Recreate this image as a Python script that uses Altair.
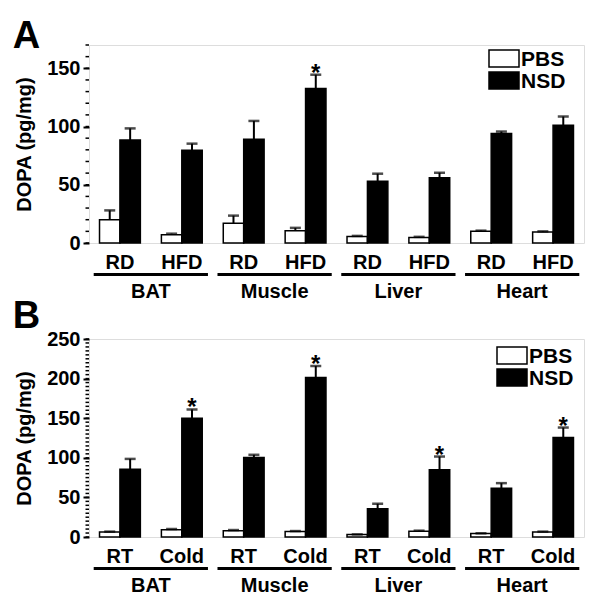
import altair as alt
import pandas as pd

FONT = "Liberation Sans"

tissues = ["BAT", "Muscle", "Liver", "Heart"]
series = ["PBS", "NSD"]

conds_A = ["RD", "HFD"]
A_pbs = [20, 7, 17, 10.5, 5.5, 4.8, 10, 9.5]
A_pbs_sem = [8, 1, 6.5, 2.5, 0.6, 0.5, 0.6, 0.5]
A_nsd = [88.4, 79.6, 89, 132.7, 53.1, 56, 94, 101.1]
A_nsd_sem = [10, 5.7, 15.8, 11.8, 6.4, 4.3, 1.7, 7.5]
A_star = [0, 0, 0, 1, 0, 0, 0, 0]

conds_B = ["RT", "Cold"]
B_pbs = [6.3, 9.3, 8, 7, 3, 7.2, 4.3, 6.3]
B_pbs_sem = [0.5, 0.8, 0.8, 0.5, 0.3, 0.8, 0.4, 0.5]
B_nsd = [85.6, 150, 100.4, 201.5, 35.8, 85, 61.7, 125.6]
B_nsd_sem = [13, 11, 3.4, 14.4, 6.2, 16.6, 6.3, 12.6]
B_star = [0, 1, 0, 1, 0, 1, 0, 1]

W, H = 495, 198


def panel(letter, conds, pbs, pbs_sem, nsd, nsd_sem, star, ymax, major, minor_step,
          title_offset, legend_x, legend_y):
    groups = [f"{t}|{c}" for t in tissues for c in conds]
    rows = []
    for i, g in enumerate(groups):
        t, c = g.split("|")
        rows.append(dict(group=g, tissue=t, cond=c, series="PBS", value=pbs[i],
                         top=pbs[i] + pbs_sem[i], star=0))
        rows.append(dict(group=g, tissue=t, cond=c, series="NSD", value=nsd[i],
                         top=nsd[i] + nsd_sem[i], star=star[i]))
    df = pd.DataFrame(rows)

    yscale = alt.Scale(domain=[0, ymax], nice=False, zero=True)
    yaxis = alt.Axis(values=major, tickSize=6, tickWidth=2, tickColor="black",
                     labelFontSize=20, labelFont=FONT, labelFontWeight="bold",
                     labelColor="black", labelPadding=3, domain=False, grid=False,
                     titleFontSize=20, titleFont=FONT, titleFontWeight="bold",
                     titleColor="black", titlePadding=12)

    def Y(field):
        return alt.Y(field, type="quantitative", scale=yscale, axis=yaxis,
                     title="DOPA (pg/mg)")

    X = alt.X("group:N", sort=groups,
              scale=alt.Scale(paddingInner=0.34, paddingOuter=0.17), axis=None)
    XO = alt.XOffset("series:N", sort=series,
                     scale=alt.Scale(paddingInner=0, paddingOuter=0))

    base = alt.Chart(df)
    bars = base.mark_bar(stroke="black", strokeWidth=1.5).encode(
        x=X, xOffset=XO, y=Y("value"),
        fill=alt.Fill("series:N", sort=series,
                      scale=alt.Scale(domain=series, range=["white", "black"]),
                      legend=None))
    errs = base.mark_rule(strokeWidth=2, color="black").encode(
        x=X, xOffset=XO, y=Y("value"), y2="top:Q")
    caps = base.mark_tick(size=11, thickness=2.5, color="black").encode(
        x=X, xOffset=XO, y=Y("top"))
    stars = base.transform_filter(alt.datum.star == 1).mark_text(
        text="*", dy=6, baseline="alphabetic", fontSize=24, fontWeight="bold",
        font=FONT, color="black").encode(x=X, xOffset=XO, y=Y("top"))
    sub = base.transform_filter(alt.datum.series == "PBS").mark_text(
        baseline="middle", fontSize=20, fontWeight="bold", font=FONT,
        color="black").encode(x=X, y=alt.value(H + 20), text="cond:N")

    minor = pd.DataFrame({"v": list(range(0, ymax + 1, minor_step))})
    minor_ticks = alt.Chart(minor).mark_rule(strokeWidth=1.5, color="black").encode(
        x=alt.value(-3.5), x2=alt.value(0), y=Y("v"))

    legend_layers = []
    for k, (s, fill) in enumerate(zip(series, ["white", "black"])):
        ldf = pd.DataFrame({"s": [s]})
        y0 = legend_y + k * 22
        legend_layers.append(alt.Chart(ldf).mark_rect(
            fill=fill, stroke="black", strokeWidth=1.5).encode(
            x=alt.value(legend_x), x2=alt.value(legend_x + 30),
            y=alt.value(y0), y2=alt.value(y0 + 17)))
        legend_layers.append(alt.Chart(ldf).mark_text(
            align="left", baseline="middle", fontSize=21, fontWeight="bold",
            font=FONT, color="black").encode(
            x=alt.value(legend_x + 32), y=alt.value(y0 + 9.5), text="s:N"))

    inner = alt.layer(minor_ticks, bars, errs, caps, stars, sub, *legend_layers)

    tdf = pd.DataFrame({"tissue": tissues})
    TX = alt.X("tissue:N", sort=tissues,
               scale=alt.Scale(paddingInner=0.077, paddingOuter=0.038), axis=None)
    underline = alt.Chart(tdf).mark_rect(color="black").encode(
        x=TX, y=alt.value(H + 30), y2=alt.value(H + 33))
    tlab = alt.Chart(tdf).mark_text(
        baseline="middle", fontSize=20, fontWeight="bold", font=FONT,
        color="black").encode(x=TX, y=alt.value(H + 49), text="tissue:N")

    return alt.layer(inner, underline, tlab).resolve_scale(x="independent").properties(
        width=W, height=H,
        title=alt.TitleParams(letter, anchor="start", fontSize=38, fontWeight="bold",
                              font=FONT, color="black", offset=title_offset, dx=-2))


pA = panel("A", conds_A, A_pbs, A_pbs_sem, A_nsd, A_nsd_sem, A_star, 170,
           [0, 50, 100, 150], 10, -12, 400, 5)
pB = panel("B", conds_B, B_pbs, B_pbs_sem, B_nsd, B_nsd_sem, B_star, 250,
           [0, 50, 100, 150, 200, 250], 5, -7, 408, 8)

chart = alt.vconcat(pA, pB, spacing=-6).properties(
    padding={"left": 4, "top": 9, "right": 0, "bottom": 0}).configure_view(
    stroke="black", strokeWidth=2).configure(background="white")

chart.save("out.html", embed_options={"renderer": "svg", "actions": False})
